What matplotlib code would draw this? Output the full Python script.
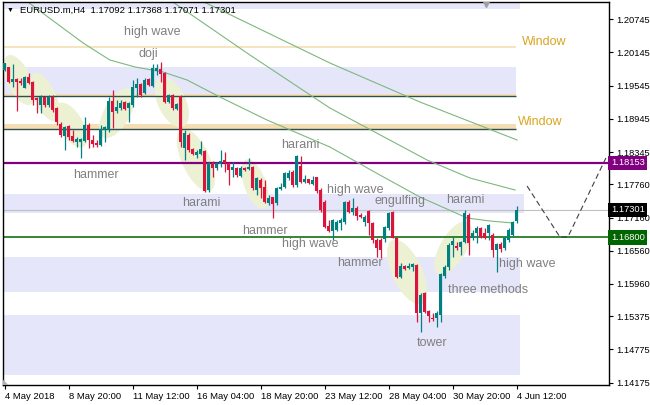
import numpy as np
import matplotlib
matplotlib.use('Agg')
import matplotlib.pyplot as plt
from matplotlib.patches import Ellipse, Rectangle, Polygon
from matplotlib.transforms import ScaledTranslation, blended_transform_factory

plt.rcParams['font.family'] = ['Liberation Sans', 'DejaVu Sans']

# ---------------- data (EURUSD.m H4) ----------------
opens = [1.19828, 1.19877, 1.19617, 1.19666, 1.19635, 1.19508, 1.19707, 1.19617, 1.19317, 1.19196,
         1.19346, 1.19196, 1.19346, 1.19136, 1.18852, 1.18635, 1.18816, 1.18635, 1.18532, 1.18532,
         1.18550, 1.18834, 1.18563, 1.18514, 1.18472, 1.18744, 1.18744, 1.19273, 1.19087, 1.19136,
         1.19244, 1.19136, 1.19196, 1.19498, 1.19570, 1.19407, 1.19666, 1.19545, 1.19816, 1.19847,
         1.19769, 1.19255, 1.19376, 1.19123, 1.19358, 1.18418, 1.18653, 1.18395, 1.18292, 1.18304,
         1.18364, 1.17659, 1.18142, 1.18051, 1.18124, 1.18201, 1.18142, 1.18020, 1.18051, 1.17917,
         1.18062, 1.18039, 1.18080, 1.17659, 1.17840, 1.17719, 1.17424, 1.17532, 1.17424, 1.17672,
         1.17719, 1.17876, 1.17990, 1.17749, 1.18093, 1.17809, 1.17852, 1.17767, 1.17888, 1.17659,
         1.17447, 1.17008, 1.16923, 1.16936, 1.17068, 1.17075, 1.17447, 1.17267, 1.17333, 1.17207,
         1.17086, 1.17279, 1.17057, 1.16755, 1.16755, 1.16767, 1.16966, 1.17256, 1.16796, 1.16091,
         1.16290, 1.16243, 1.16272, 1.16296, 1.15430, 1.15791, 1.15471, 1.15350, 1.15350, 1.15399,
         1.16109, 1.16272, 1.16664, 1.16652, 1.16634, 1.16724, 1.17207, 1.16796, 1.16876, 1.16966,
         1.16876, 1.16876, 1.16845, 1.16574, 1.16677, 1.16605, 1.16755, 1.16845, 1.17092]
highs = [1.19960, 1.19888, 1.19937, 1.19678, 1.19678, 1.19720, 1.19769, 1.19630, 1.19346, 1.19376,
         1.19358, 1.19376, 1.19376, 1.19165, 1.18894, 1.18816, 1.18834, 1.18744, 1.18612, 1.18594,
         1.18984, 1.18865, 1.18653, 1.18563, 1.18834, 1.18816, 1.19346, 1.19467, 1.19286, 1.19286,
         1.19268, 1.19255, 1.19648, 1.19678, 1.19588, 1.19678, 1.19684, 1.19932, 1.19932, 1.19968,
         1.19792, 1.19389, 1.19389, 1.19226, 1.19376, 1.18744, 1.18684, 1.18418, 1.18382, 1.18545,
         1.18382, 1.18171, 1.18183, 1.18171, 1.18382, 1.18351, 1.18171, 1.18171, 1.18080, 1.18093,
         1.18080, 1.18232, 1.18093, 1.17899, 1.17870, 1.17840, 1.17568, 1.17538, 1.17719, 1.17780,
         1.17990, 1.18020, 1.18020, 1.18292, 1.18279, 1.17930, 1.17858, 1.17912, 1.17899, 1.17690,
         1.17478, 1.17116, 1.17135, 1.17116, 1.17147, 1.17465, 1.17478, 1.17509, 1.17370, 1.17238,
         1.17207, 1.17297, 1.17086, 1.16786, 1.16791, 1.17008, 1.17267, 1.17279, 1.16815, 1.16334,
         1.16303, 1.16334, 1.16334, 1.16316, 1.15791, 1.15820, 1.15489, 1.15430, 1.15471, 1.16153,
         1.16303, 1.16695, 1.16815, 1.16724, 1.16742, 1.17297, 1.17238, 1.16936, 1.17013, 1.16995,
         1.16977, 1.17039, 1.16876, 1.16695, 1.16724, 1.16815, 1.16977, 1.17098, 1.17368]
lows = [1.19816, 1.19588, 1.19527, 1.19093, 1.19557, 1.19498, 1.19570, 1.19196, 1.19046, 1.19046,
        1.19165, 1.19165, 1.19075, 1.18834, 1.18622, 1.18382, 1.18563, 1.18532, 1.18442, 1.18232,
        1.18532, 1.18413, 1.18442, 1.18442, 1.18460, 1.18532, 1.18713, 1.18774, 1.19046, 1.19105,
        1.19105, 1.18894, 1.19165, 1.19346, 1.19346, 1.19389, 1.19539, 1.19527, 1.19738, 1.19606,
        1.19232, 1.19226, 1.19105, 1.19105, 1.18442, 1.18201, 1.18351, 1.18292, 1.18232, 1.18292,
        1.17628, 1.17628, 1.17899, 1.18020, 1.18080, 1.17990, 1.17749, 1.17899, 1.17899, 1.17899,
        1.18002, 1.18020, 1.17659, 1.17568, 1.17509, 1.17418, 1.17388, 1.17153, 1.17388, 1.17659,
        1.17690, 1.17840, 1.17719, 1.17719, 1.17780, 1.17780, 1.17762, 1.17749, 1.17599, 1.17267,
        1.16966, 1.16905, 1.16755, 1.16923, 1.16936, 1.17044, 1.17248, 1.17207, 1.17116, 1.17147,
        1.17008, 1.16845, 1.16695, 1.16453, 1.16429, 1.16724, 1.16936, 1.16786, 1.16073, 1.16073,
        1.16212, 1.16231, 1.16194, 1.15278, 1.15097, 1.15430, 1.15278, 1.15290, 1.15187, 1.15278,
        1.16062, 1.16212, 1.16453, 1.16574, 1.16484, 1.16695, 1.16484, 1.16755, 1.16695, 1.16786,
        1.16773, 1.16755, 1.16453, 1.16171, 1.16543, 1.16574, 1.16724, 1.16827, 1.17071]
closes = [1.19950, 1.19606, 1.19666, 1.19617, 1.19588, 1.19707, 1.19588, 1.19286, 1.19286, 1.19346,
          1.19196, 1.19346, 1.19105, 1.18894, 1.18653, 1.18792, 1.18612, 1.18550, 1.18576, 1.18576,
          1.18834, 1.18563, 1.18485, 1.18472, 1.18762, 1.18792, 1.19273, 1.19075, 1.19165, 1.19226,
          1.19118, 1.19226, 1.19527, 1.19570, 1.19376, 1.19648, 1.19557, 1.19859, 1.19859, 1.19751,
          1.19255, 1.19376, 1.19136, 1.19208, 1.18527, 1.18689, 1.18382, 1.18304, 1.18351, 1.18400,
          1.17641, 1.18142, 1.18051, 1.18142, 1.18183, 1.18142, 1.18020, 1.18080, 1.17930, 1.18062,
          1.18020, 1.18080, 1.17690, 1.17870, 1.17690, 1.17442, 1.17514, 1.17406, 1.17695, 1.17719,
          1.17966, 1.17966, 1.17749, 1.18279, 1.17809, 1.17852, 1.17780, 1.17840, 1.17646, 1.17297,
          1.16984, 1.16923, 1.17116, 1.17086, 1.17116, 1.17447, 1.17267, 1.17333, 1.17189, 1.17165,
          1.17176, 1.17057, 1.16755, 1.16605, 1.16574, 1.16984, 1.17238, 1.16796, 1.16091, 1.16290,
          1.16231, 1.16290, 1.16316, 1.15430, 1.15760, 1.15459, 1.15386, 1.15327, 1.15430, 1.16135,
          1.16272, 1.16664, 1.16737, 1.16616, 1.16724, 1.17238, 1.16695, 1.16876, 1.16966, 1.16815,
          1.16796, 1.17026, 1.16574, 1.16677, 1.16592, 1.16786, 1.16936, 1.17075, 1.17301]

# moving averages (bar index, price)
ma_fast_idx = [3.8, 5.1, 19.6, 26.3, 32.6, 39.6, 45.6, 53.8, 65.6, 81.3, 93.8, 103.8, 115.6, 121.3, 127.1]
ma_fast_val = [1.21166, 1.21094, 1.20317, 1.20009, 1.19883, 1.19792, 1.19648, 1.19340, 1.18924,
               1.18436, 1.17930, 1.17532, 1.17153, 1.17098, 1.17062]
ma_mid_idx = [40.1, 41.3, 61.3, 81.3, 105.6, 116.3, 127.6]
ma_mid_val = [1.21184, 1.21094, 1.20100, 1.19141, 1.18201, 1.17876, 1.17659]
ma_slow_idx = [47.6, 48.8, 81.3, 103.8, 128.1]
ma_slow_val = [1.21184, 1.21094, 1.19955, 1.19250, 1.18563]

# forecast path (dashed)
proj_idx = [130.6, 138.8, 140.8, 150.3]
proj_val = [1.17731, 1.16809, 1.16809, 1.18237]

# zones
lav_zones = [(1.20926, 1.21058, 128.8), (1.19358, 1.19888, 127.8), (1.17248, 1.17581, 129.8),
             (1.15820, 1.16453, 128.8), (1.14314, 1.15399, 128.8)]
wheat_zones = [(1.19358, 1.19394), (1.18756, 1.18852)]
wheat_line = 1.20239
dark_lines = [1.19358, 1.18756]
zone_end = 127.8

level_purple = 1.18153
level_green = 1.16800
last_price = 1.17301

# pattern ellipses: centre bar, centre price, semi axes (px), tilt (deg)
ell_idx = [3.6, 10.1, 16.6, 28.1, 41.8, 47.8, 62.6, 100.6, 112.1]
ell_val = [1.19648, 1.19340, 1.18834, 1.19051, 1.19250, 1.18201, 1.17767, 1.16176, 1.16610]
ell_a = [27, 26, 25, 28, 27, 34, 26, 35, 30]
ell_b = [12, 11, 12, 13, 14, 14, 11, 15, 13]
ell_ang = [-65, -65, -60, 60, -65, -65, -70, -65, 60]

pattern_labels = ['high wave', 'doji', 'hammer', 'harami', 'harami', 'high wave', 'engulfing',
                  'harami', 'hammer', 'high wave', 'hammer', 'three methods', 'high wave', 'tower']
label_idx = [36.8, 35.8, 22.8, 73.8, 49.1, 87.6, 98.8, 115.1, 65.1, 76.3, 88.8, 120.8, 130.6, 106.9]
label_val = [1.20515, 1.20118, 1.17930, 1.18472, 1.17424, 1.17659, 1.17460, 1.17478, 1.16917,
             1.16683, 1.16339, 1.15851, 1.16321, 1.14887]
window_idx = [134.8, 133.8]
window_val = [1.20340, 1.18882]

y_ticks = [1.20745, 1.20145, 1.19545, 1.18945, 1.18345, 1.17760, 1.17160, 1.16560,
           1.15960, 1.15375, 1.14775, 1.14175]
x_tick_idx = [0, 16, 32, 48, 64, 80, 96, 112, 128]
x_tick_lab = ['4 May 2018', '8 May 20:00', '11 May 12:00', '16 May 04:00', '18 May 20:00',
              '23 May 12:00', '28 May 04:00', '30 May 20:00', '4 Jun 12:00']

TEAL = '#008080'
RED = '#DC143C'
LAV = '#E6E6FA'
WHEAT = '#F5DEB3'
ELL = '#EDF1D4'
MA_COL = '#7DB87D'
LBL = '#808080'

# ---------------- figure ----------------
fig = plt.figure(figsize=(6.5, 4.05), dpi=100)
ax = fig.add_axes([3 / 650, 20 / 405, 606 / 650, 383 / 405])
ax.set_xlim(-0.425, 151.08)
ax.set_ylim(1.14133, 1.21058)

x0 = -0.425
for lo, hi, end in lav_zones:
    ax.add_patch(Rectangle((x0, lo), end - x0, hi - lo, color=LAV, lw=0, zorder=0))
for lo, hi in wheat_zones:
    ax.add_patch(Rectangle((x0, lo), zone_end - x0, hi - lo, color=WHEAT, lw=0, zorder=0.5))
ax.hlines(wheat_line, x0, zone_end, color=WHEAT, lw=1.2, zorder=0.5)

# ellipses drawn in pixel units, centred in data space
for ci, cp, a, b, ang in zip(ell_idx, ell_val, ell_a, ell_b, ell_ang):
    tr = fig.dpi_scale_trans + ScaledTranslation(ci, cp, ax.transData)
    ax.add_patch(Ellipse((0, 0), 2 * a / 100, 2 * b / 100, angle=ang, transform=tr,
                         color=ELL, lw=0, zorder=1))

ax.hlines(dark_lines, x0, zone_end, color='#2F4F4F', lw=1.0, zorder=2)
ax.axhline(last_price, color='#C0C0C0', lw=0.8, zorder=2)
ax.axhline(level_purple, color='#800080', lw=1.6, zorder=2)
ax.axhline(level_green, color='#006400', lw=1.1, zorder=2)

for xi, yi in [(ma_fast_idx, ma_fast_val), (ma_mid_idx, ma_mid_val), (ma_slow_idx, ma_slow_val)]:
    ax.plot(xi, yi, color=MA_COL, lw=0.8, zorder=2)

ax.plot(proj_idx, proj_val, color='#404040', lw=0.8, ls=(0, (5, 3)), zorder=2)

# candles
o = np.array(opens); h = np.array(highs); l = np.array(lows); c = np.array(closes)
idx = np.arange(len(o))
cols = np.where(c >= o, TEAL, RED)
ax.vlines(idx, l, h, colors=cols, lw=0.9, zorder=3)
ax.bar(idx, np.maximum(np.abs(c - o), 0.00004), bottom=np.minimum(o, c), width=0.7,
       color=cols, lw=0, zorder=3)

for t, xi, yi in zip(pattern_labels, label_idx, label_val):
    ax.text(xi, yi, t, color=LBL, fontsize=9, ha='center', va='center', zorder=4)
for xi, yi in zip(window_idx, window_val):
    ax.text(xi, yi, 'Window', color='#DAA520', fontsize=9, ha='center', va='center', zorder=4)

# small markers
ax.plot([120.3], [1.21022], marker='v', color='#A0A0A0', ms=5, zorder=4)
ax.add_patch(Polygon([(0, 0), (0.009, 0), (0, 0.014)], closed=True, transform=ax.transAxes,
                     color='#B0B0B0', lw=0, zorder=4))

# axes styling
for s in ax.spines.values():
    s.set_color('black')
    s.set_linewidth(1)
ax.yaxis.tick_right()
ax.set_yticks(y_ticks)
ax.set_yticklabels([f'{v:.5f}' for v in y_ticks])
ax.set_xticks(x_tick_idx)
ax.set_xticklabels(x_tick_lab, ha='left')
ax.tick_params(axis='y', length=3, width=0.8, pad=2, labelsize=6.7, colors='black')
ax.tick_params(axis='x', length=3, width=0.8, pad=2, labelsize=6.8, colors='black')

# price boxes on the axis
bt = blended_transform_factory(ax.transAxes, ax.transData)
for v, fc in [(level_purple, '#800080'), (last_price, 'black'), (level_green, '#006400')]:
    ax.text(1.003, v, f'{v:.5f}', transform=bt, ha='left', va='center', color='white',
            fontsize=6.7, zorder=5, clip_on=False,
            bbox=dict(boxstyle='square,pad=0.28', fc=fc, ec='none'))

# header
fig.text(10 / 650, 1 - 10.5 / 405, '\u25BC', fontsize=5, ha='center', va='center', color='black')
fig.text(20 / 650, 1 - 10 / 405, 'EURUSD.m,H4  1.17092 1.17368 1.17071 1.17301',
         fontsize=6.8, ha='left', va='center', color='black')

fig.savefig('out.png', dpi=100)
